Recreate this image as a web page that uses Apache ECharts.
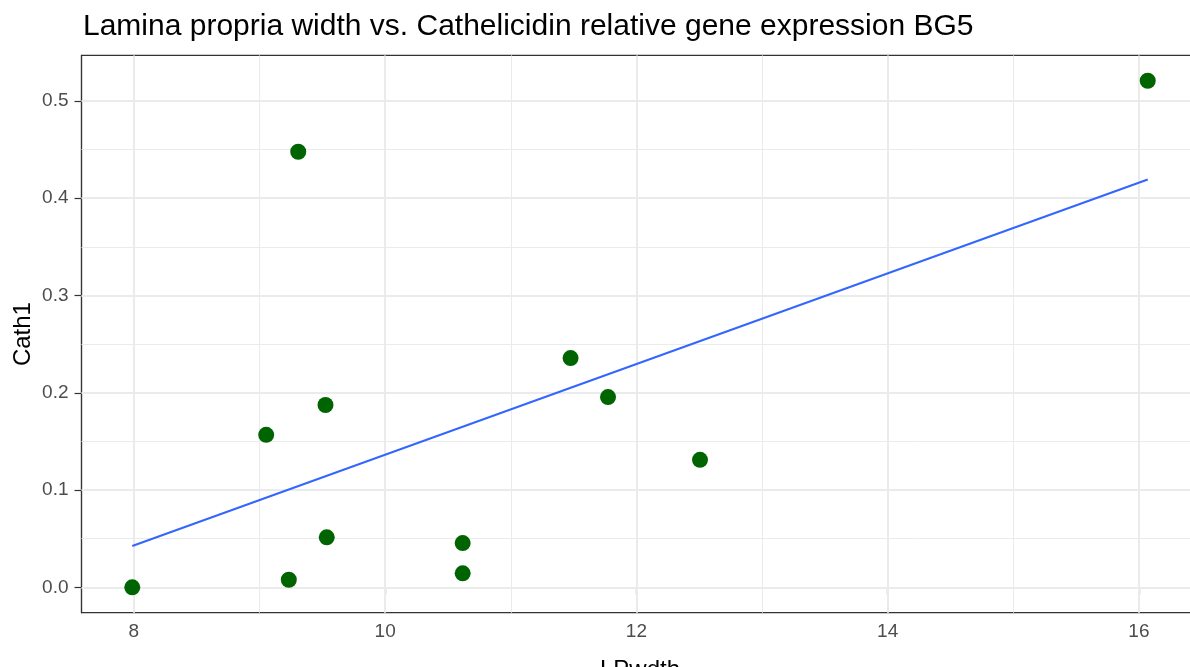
<!DOCTYPE html>
<html>
<head>
<meta charset="utf-8">
<script src="https://cdn.jsdelivr.net/npm/echarts@6/dist/echarts.min.js"></script>
<style>
  html, body { margin: 0; padding: 0; background: #ffffff; }
  #chart { width: 1190px; height: 667px; }
</style>
</head>
<body>
<div id="chart"></div>
<script>
// Lamina propria width (LPwdth) and Cathelicidin expression (Cath1), one entry per sample
const lpWidth = [7.987, 9.308, 9.053, 9.525, 9.535, 9.233, 10.617, 10.617, 11.476, 11.774, 12.506, 16.07];
const cath1   = [0.000, 0.4477, 0.1568, 0.1874, 0.0514, 0.0078, 0.0455, 0.0144, 0.2357, 0.1956, 0.1311, 0.5207];

// Axis breaks
const xTicks      = [8, 10, 12, 14, 16];
const xMinorTicks = [9, 11, 13, 15];
const yTicks      = [0, 0.1, 0.2, 0.3, 0.4, 0.5];
const yMinorTicks = [0.05, 0.15, 0.25, 0.35, 0.45];

const titleText = 'Lamina propria width vs. Cathelicidin relative gene expression BG5';
const xName = 'LPwdth';
const yName = 'Cath1';

// Ordinary least squares fit, drawn across the observed x range
function linearFit(xs, ys) {
  const n = xs.length;
  const mx = xs.reduce((a, b) => a + b, 0) / n;
  const my = ys.reduce((a, b) => a + b, 0) / n;
  let sxy = 0, sxx = 0;
  for (let i = 0; i < n; i++) {
    sxy += (xs[i] - mx) * (ys[i] - my);
    sxx += (xs[i] - mx) * (xs[i] - mx);
  }
  const slope = sxy / sxx;
  return { slope, intercept: my - slope * mx };
}
const fit = linearFit(lpWidth, cath1);
const xLo = Math.min(...lpWidth), xHi = Math.max(...lpWidth);
const yLo = Math.min(...cath1),   yHi = Math.max(...cath1);
const fitLine = [xLo, xHi].map(x => [x, fit.intercept + fit.slope * x]);

// 5% padding on both sides of the data range
const xPad = 0.05 * (xHi - xLo);
const yPad = 0.05 * (yHi - yLo);

const points = lpWidth.map((x, i) => [x, cath1[i]]);

const gridColor = '#EBEBEB';
const inkColor = '#333333';
const labelColor = '#4D4D4D';
const font = '"Liberation Sans", Arial, Helvetica, sans-serif';

const gridBox = { left: 81.5, right: -8.5, top: 55.4, bottom: 54.3 };
const chartHeight = 667;

function gridLines(values, axisKey, width) {
  return {
    type: 'line',
    data: [],
    z: 1,
    silent: true,
    markLine: {
      z: 1,
      silent: true,
      symbol: 'none',
      label: { show: false },
      emphasis: { disabled: true },
      lineStyle: { color: gridColor, width: width, type: 'solid' },
      data: values.map(v => ({ [axisKey]: v }))
    }
  };
}

const chart = echarts.init(document.getElementById('chart'), null, { renderer: 'canvas' });
chart.setOption({
  animation: false,
  backgroundColor: '#ffffff',
  title: {
    text: titleText,
    left: 78,
    top: 7,
    textStyle: { fontFamily: font, fontSize: 30, fontWeight: 'normal', color: '#000000' }
  },
  // vertical axis title, centred on the plotting panel
  graphic: [{
    type: 'text',
    x: 23.5,
    y: gridBox.top + (chartHeight - gridBox.top - gridBox.bottom) / 2,
    rotation: Math.PI / 2,
    silent: true,
    style: {
      text: yName,
      fontFamily: font,
      fontSize: 24,
      fill: '#000000',
      align: 'center',
      verticalAlign: 'middle'
    }
  }],
  grid: {
    left: gridBox.left,
    right: gridBox.right,
    top: gridBox.top,
    bottom: gridBox.bottom,
    show: true,
    backgroundColor: '#ffffff',
    borderColor: inkColor,
    borderWidth: 1.2,
    containLabel: false,
    outerBoundsMode: 'none'
  },
  xAxis: {
    type: 'value',
    min: xLo - xPad,
    max: xHi + xPad,
    name: xName,
    nameLocation: 'middle',
    nameGap: 46,
    nameTextStyle: { fontFamily: font, fontSize: 24, color: '#000000' },
    axisLine: { show: true, lineStyle: { color: inkColor, width: 1.2 } },
    axisTick: { show: true, customValues: xTicks, length: 7, lineStyle: { color: inkColor, width: 1.2 } },
    axisLabel: {
      customValues: xTicks,
      margin: 10,
      fontFamily: font,
      fontSize: 19,
      color: labelColor
    },
    splitLine: { show: false }
  },
  yAxis: {
    type: 'value',
    min: yLo - yPad,
    max: yHi + yPad,
    axisLine: { show: true, lineStyle: { color: inkColor, width: 1.2 } },
    axisTick: { show: true, customValues: yTicks, length: 7, lineStyle: { color: inkColor, width: 1.2 } },
    axisLabel: {
      customValues: yTicks,
      margin: 13,
      fontFamily: font,
      fontSize: 19,
      color: labelColor,
      formatter: v => v.toFixed(1)
    },
    splitLine: { show: false }
  },
  series: [
    gridLines(xMinorTicks, 'xAxis', 1),
    gridLines(yMinorTicks, 'yAxis', 1),
    gridLines(xTicks, 'xAxis', 2),
    gridLines(yTicks, 'yAxis', 2),
    {
      type: 'scatter',
      data: points,
      symbol: 'circle',
      symbolSize: 16,
      z: 3,
      itemStyle: { color: '#006400', opacity: 1 }
    },
    {
      type: 'line',
      data: fitLine,
      z: 4,
      symbol: 'none',
      lineStyle: { color: '#3366FF', width: 2 }
    }
  ]
});
</script>
</body>
</html>
